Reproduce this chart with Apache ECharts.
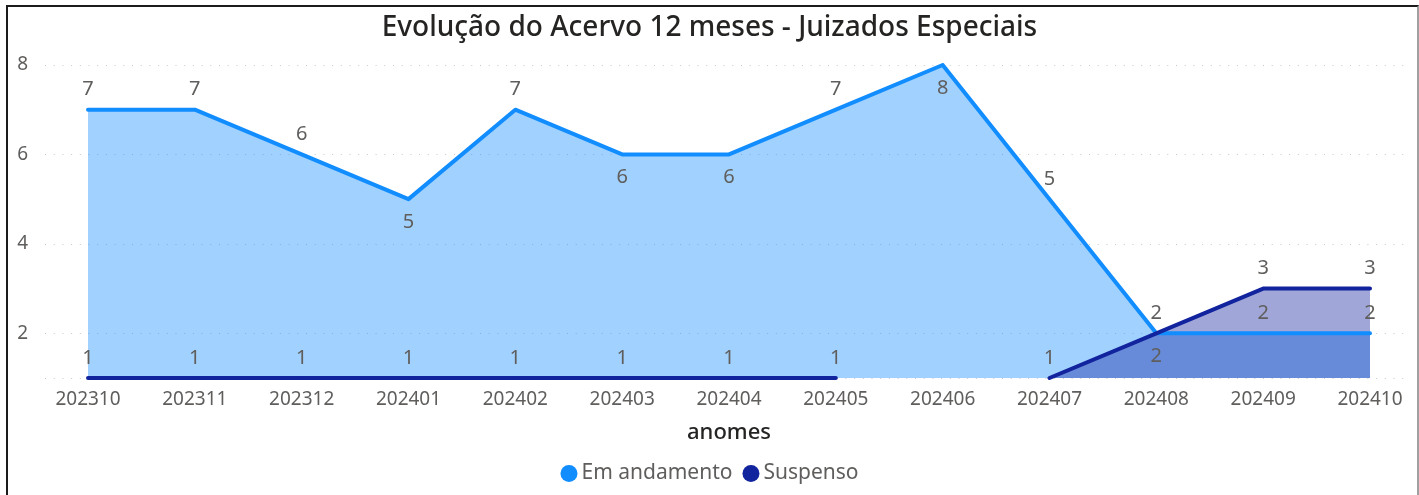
<!DOCTYPE html>
<html>
<head>
<meta charset="utf-8">
<script src="https://cdn.jsdelivr.net/npm/echarts@6/dist/echarts.min.js"></script>
<style>
  html, body { margin: 0; padding: 0; background: #fff; }
  #frame { position: absolute; left: 6px; top: 5px; width: 1409px; height: 500px;
           border-left: 2px solid #1b1b1b; border-top: 2px solid #1b1b1b; border-right: 2px solid #a0a0a0; }
  #main { position: absolute; left: 0; top: 0; width: 1419px; height: 495px; }
</style>
</head>
<body>
<div id="frame"></div>
<div id="main"></div>
<script>
// dados
var meses = ['202310', '202311', '202312', '202401', '202402', '202403', '202404',
             '202405', '202406', '202407', '202408', '202409', '202410'];
var emAndamento = [7, 7, 6, 5, 7, 6, 6, 7, 8, 5, 2, 2, 2];
var suspenso = [1, 1, 1, 1, 1, 1, 1, 1, null, 1, 2, 3, 3];

// posição dos rótulos (como o Power BI colocou)
var posAndamento = ['top', 'top', 'top', 'bottom', 'top', 'bottom', 'bottom',
                    'top', 'bottom', 'top', 'top', 'top', 'top'];
var posSuspenso = ['top', 'top', 'top', 'top', 'top', 'top', 'top',
                   'top', 'top', 'top', 'bottom', 'top', 'top'];

var corAndamento = '#118DFF';
var corSuspenso = '#12239E';
var fonte = '"Noto Sans", "Open Sans", sans-serif';

function comRotulos(valores, posicoes) {
  return valores.map(function (v, i) {
    var p = posicoes[i];
    return { value: v, label: { position: p, distance: p === 'bottom' ? 12 : 9 } };
  });
}

var myChart = echarts.init(document.getElementById('main'));

var rotulo = { show: true, color: '#605E5C', fontSize: 20, fontFamily: fonte };

myChart.setOption({
  animation: false,
  title: {
    text: 'Evolução do Acervo 12 meses - Juizados Especiais',
    left: 'center', top: 9,
    textStyle: { fontFamily: fonte, fontSize: 28, fontWeight: 500, color: '#252423' }
  },
  legend: {
    data: [
      { name: 'Em andamento', itemStyle: { color: corAndamento } },
      { name: 'Suspenso', itemStyle: { color: corSuspenso } }
    ],
    icon: 'circle', itemWidth: 17, itemHeight: 17, itemGap: 10,
    top: 458, left: 'center',
    textStyle: { fontFamily: fonte, fontSize: 21, color: '#605E5C', padding: [0, 0, 0, -1] }
  },
  grid: [
    { left: 45, right: 12, top: 65, bottom: 117 },
    { left: 88, right: 49, top: 65, bottom: 117 }
  ],
  xAxis: [
    { gridIndex: 0, type: 'category', data: meses, show: false },
    {
      gridIndex: 1, type: 'category', data: meses, boundaryGap: false,
      axisLine: { show: false }, axisTick: { show: false },
      axisLabel: { color: '#605E5C', fontSize: 19, fontFamily: fonte, margin: 12 },
      name: 'anomes', nameLocation: 'middle', nameGap: 44,
      nameTextStyle: { color: '#252423', fontSize: 22, fontFamily: fonte, fontWeight: 500 }
    }
  ],
  yAxis: [
    {
      gridIndex: 0, type: 'value', min: 1, max: 8, splitNumber: 3,
      axisLine: { show: false }, axisTick: { show: false },
      axisLabel: {
        color: '#605E5C', fontSize: 19, fontFamily: fonte, margin: 17,
        formatter: function (v) { return v === 1 ? '' : v; }
      },
      splitLine: { lineStyle: { color: '#C8C8C8', type: [1, 7.7], width: 1.2 } }
    },
    { gridIndex: 1, type: 'value', min: 1, max: 8, show: false, splitLine: { show: false } }
  ],
  series: [
    {
      name: 'Em andamento', type: 'line', xAxisIndex: 1, yAxisIndex: 1, data: emAndamento,
      symbol: 'none', lineStyle: { width: 0 }, itemStyle: { color: corAndamento },
      areaStyle: { color: corAndamento, opacity: 0.4 }, z: 1
    },
    {
      name: 'Suspenso', type: 'line', xAxisIndex: 1, yAxisIndex: 1, data: suspenso,
      symbol: 'none', lineStyle: { width: 0 }, itemStyle: { color: corSuspenso },
      areaStyle: { color: corSuspenso, opacity: 0.4 }, z: 2
    },
    {
      name: 'Em andamento', type: 'line', xAxisIndex: 1, yAxisIndex: 1,
      data: comRotulos(emAndamento, posAndamento),
      symbol: 'circle', symbolSize: 2, itemStyle: { color: corAndamento },
      lineStyle: { width: 4, color: corAndamento, cap: 'round', join: 'round' },
      label: rotulo, z: 3
    },
    {
      name: 'Suspenso', type: 'line', xAxisIndex: 1, yAxisIndex: 1,
      data: comRotulos(suspenso, posSuspenso),
      symbol: 'circle', symbolSize: 2, itemStyle: { color: corSuspenso },
      lineStyle: { width: 4, color: corSuspenso, cap: 'round', join: 'round' },
      label: rotulo, z: 4
    }
  ]
});
</script>
</body>
</html>
